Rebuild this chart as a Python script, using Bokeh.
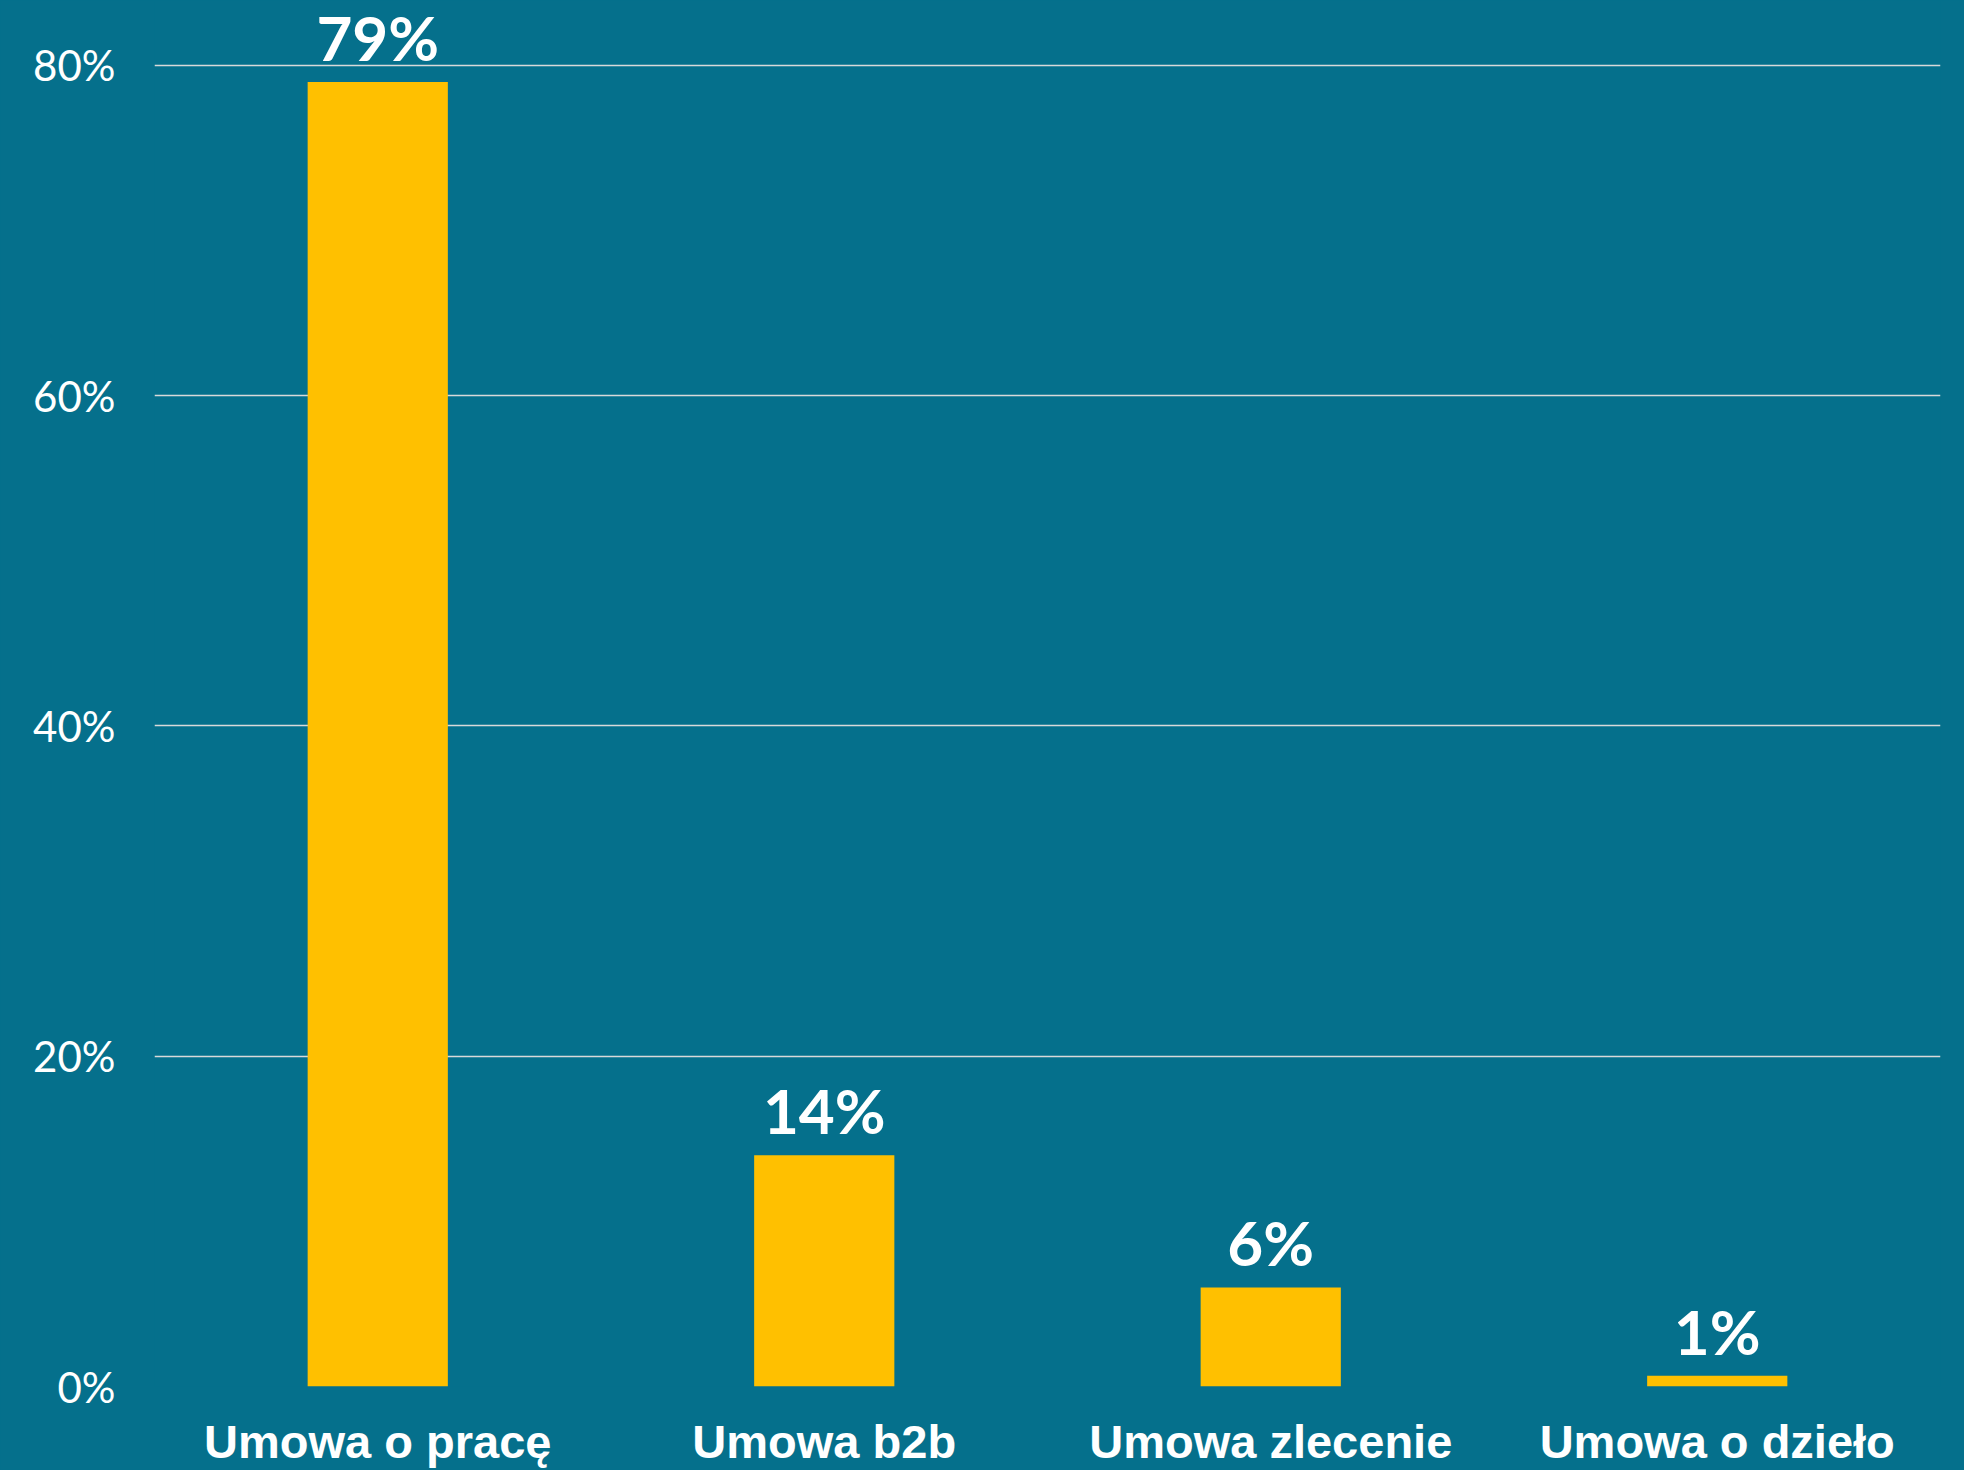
from bokeh.plotting import figure
from bokeh.models import ColumnDataSource, FactorRange, Range1d, FixedTicker, PrintfTickFormatter, LabelSet
from bokeh.core.properties import value
from bokeh.embed import file_html
from bokeh.resources import INLINE

# Data
categories = ["Umowa o pracę", "Umowa b2b", "Umowa zlecenie", "Umowa o dzieło"]
shares = [79, 14, 6, 0.65]
share_labels = ["79%", "14%", "6%", "1%"]
y_ticks = [0, 20, 40, 60, 80]

BG = "#05708C"
BAR = "#FFC000"

src = ColumnDataSource(dict(cat=categories, val=shares, lab=share_labels))

p = figure(
    width=1964, height=1470,
    x_range=FactorRange(*categories, range_padding=0),
    y_range=Range1d(0, 83.93),
    output_backend="svg", toolbar_location=None,
    min_border_left=154, min_border_right=24, min_border_top=0, min_border_bottom=83,
)
p.background_fill_color = BG
p.border_fill_color = BG
p.outline_line_color = None

p.vbar(x="cat", top="val", width=0.314, source=src, fill_color=BAR, line_color=None)

labels = LabelSet(x="cat", y="val", text="lab", source=src, y_offset=21,
                  text_align="center", text_baseline="alphabetic",
                  text_font=value("Lato"), text_font_style="bold",
                  text_font_size="62px", text_color="white")
p.add_layout(labels)

p.xgrid.grid_line_color = None
p.ygrid.grid_line_color = "#D9D9D9"
p.ygrid.grid_line_width = 1.5
p.ygrid.ticker = FixedTicker(ticks=y_ticks)

p.yaxis.ticker = FixedTicker(ticks=y_ticks)
p.yaxis.formatter = PrintfTickFormatter(format="%d%%")
p.yaxis.major_label_text_font = "Lato"
p.yaxis.major_label_text_font_size = "42px"
p.yaxis.major_label_text_color = "white"
p.yaxis.major_label_standoff = 33

p.xaxis.major_label_text_font = "Liberation Sans"
p.xaxis.major_label_text_font_style = "bold"
p.xaxis.major_label_text_font_size = "47px"
p.xaxis.major_label_text_color = "white"
p.xaxis.major_label_standoff = 22

for ax in (p.xaxis[0], p.yaxis[0]):
    ax.axis_line_color = None
    ax.major_tick_line_color = None
    ax.minor_tick_line_color = None

html = file_html(p, INLINE)
html = html.replace("<head>", "<head>\n<style>html,body{margin:0;padding:0;overflow:hidden;background:%s;}</style>" % BG, 1)
open("out.html", "w").write(html)
